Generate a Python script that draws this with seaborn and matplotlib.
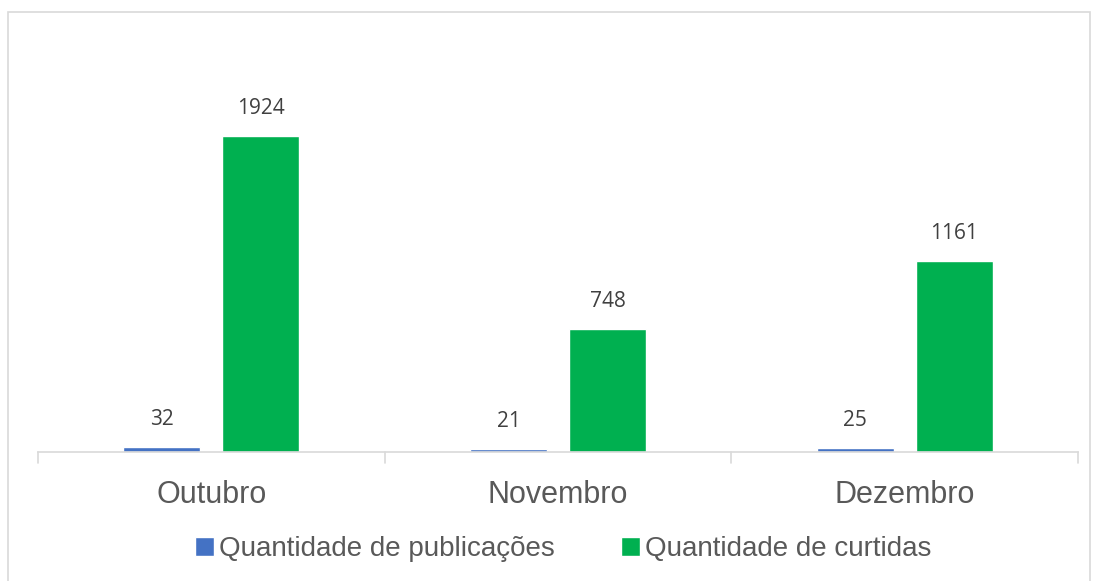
import pandas as pd
import seaborn as sns
from matplotlib import pyplot as plt
from matplotlib.patches import Rectangle

months = ['Outubro', 'Novembro', 'Dezembro']
publicacoes = [32, 21, 25]
curtidas = [1924, 748, 1161]
series = ['Quantidade de publicações', 'Quantidade de curtidas']
colors = ['#4472c4', '#00b050']

df = pd.DataFrame({
    'Mes': months * 2,
    'Serie': [series[0]] * 3 + [series[1]] * 3,
    'Valor': publicacoes + curtidas,
})

sns.set_style('white')
plt.rcParams['font.family'] = ['Liberation Sans', 'DejaVu Sans']

fig = plt.figure(figsize=(10.98, 5.81), dpi=100)
W, H = 1098, 581
ax = fig.add_axes([38 / W, 1 - 452 / H, (1078 - 38) / W, (452 - 41) / H])

sns.barplot(data=df, x='Mes', y='Valor', hue='Serie', palette=colors,
            saturation=1, width=0.571, gap=0.222, ax=ax, legend=True)

for cont in ax.containers:
    ax.bar_label(cont, padding=12, fontsize=15, color='#404040', family='Open Sans')

ax.set_ylim(0, 2500)
ax.set_xlim(-0.5, 2.5)
ax.set_xlabel('')
ax.set_ylabel('')
ax.set_yticks([])
for s in ['top', 'left', 'right']:
    ax.spines[s].set_visible(False)
ax.spines['bottom'].set_color('#d9d9d9')
ax.spines['bottom'].set_linewidth(1.2)
ax.set_xticks([0, 1, 2])
ax.set_xticklabels(months, fontsize=22, color='#595959')
ax.tick_params(axis='x', length=0, pad=20)
# category separators
for xb in [-0.5, 0.5, 1.5, 2.5]:
    ax.plot([xb, xb], [0, -0.027], transform=ax.get_xaxis_transform(),
            color='#d9d9d9', lw=1.2, clip_on=False)

ax.legend(loc='center', bbox_to_anchor=(563 / W, 1 - 549 / H),
          bbox_transform=fig.transFigure, ncol=2, frameon=False,
          fontsize=20, handlelength=0.7, handleheight=0.7, handletextpad=0.15,
          columnspacing=2.4, labelcolor='#595959')

fig.patches.append(Rectangle((8 / W, -0.02), (1090 - 8) / W, 1 - 12 / H + 0.02,
                             transform=fig.transFigure, fill=False,
                             edgecolor='#d9d9d9', lw=1.2))

fig.savefig('out.png', dpi=100)
